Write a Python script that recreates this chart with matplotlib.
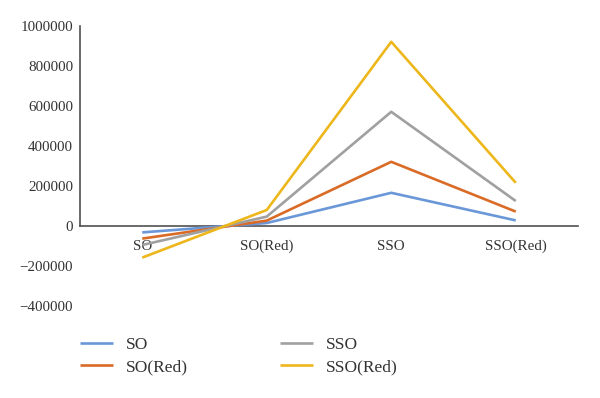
import matplotlib.pyplot as plt

categories = ["SO", "SO(Red)", "SSO", "SSO(Red)"]
so = [-32000, 15000, 166000, 28000]
so_red = [-63000, 27000, 321000, 72000]
sso = [-95000, 47000, 571000, 125000]
sso_red = [-158000, 80000, 921000, 216000]
yticks = [-400000, -200000, 0, 200000, 400000, 600000, 800000, 1000000]

plt.rcParams['font.family'] = ['Liberation Serif', 'DejaVu Serif']

fig = plt.figure(figsize=(6, 3.98), dpi=100)
ax = fig.add_axes([80 / 600, 1 - 306 / 398, 498 / 600, 280 / 398])

x = [i + 0.5 for i in range(len(categories))]
series = [("SO", so, "#6A97D8"), ("SO(Red)", so_red, "#D96B26"),
          ("SSO", sso, "#A0A0A0"), ("SSO(Red)", sso_red, "#EDB71C")]
for name, vals, col in series:
    ax.plot(x, vals, color=col, lw=1.9, label=name, zorder=3, solid_capstyle='butt')

ax.set_xlim(0, len(categories))
ax.set_ylim(-400000, 1000000)
ax.set_yticks(yticks)
ax.set_yticklabels([str(v).replace("-", "\u2212") for v in yticks])
ax.set_xticks(x)
ax.set_xticklabels(categories)

for s in ["top", "right"]:
    ax.spines[s].set_visible(False)
ax.spines["left"].set_bounds(0, 1000000)
ax.spines["bottom"].set_position(("data", 0))
for s in ["left", "bottom"]:
    ax.spines[s].set_color("#505050")
    ax.spines[s].set_linewidth(1.2)
ax.tick_params(axis="x", length=0, pad=10, labelsize=10.8, colors="#333333")
ax.tick_params(axis="y", length=0, pad=5, labelsize=10.8, colors="#333333")

fig.legend(loc="upper left", bbox_to_anchor=(64 / 600, 1 - 321 / 398), ncol=2,
           frameon=False, fontsize=12.5, handlelength=1.9, handletextpad=0.75,
           columnspacing=5.3, labelspacing=0.35, labelcolor="#333333")

fig.savefig("out.png", dpi=100)
